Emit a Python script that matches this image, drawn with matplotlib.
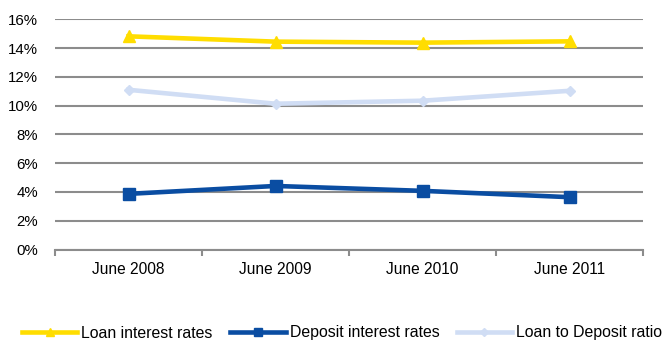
import matplotlib.pyplot as plt
import numpy as np
from matplotlib.ticker import FuncFormatter

plt.rcParams['font.family'] = ['Liberation Sans', 'DejaVu Sans']

periods = ["June 2008", "June 2009", "June 2010", "June 2011"]
loan_rates = [14.83, 14.46, 14.39, 14.48]
deposit_rates = [3.87, 4.42, 4.08, 3.64]
loan_to_deposit = [11.11, 10.14, 10.35, 11.04]

fig = plt.figure(figsize=(6.64, 3.40), dpi=100)
ax = fig.add_axes([55 / 664, 1 - 249.5 / 340, 588 / 664, 230 / 340])

x = np.arange(len(periods))
ax.plot(x, loan_rates, color="#FFDD00", linewidth=3.3, marker="^", markersize=8,
        label="Loan interest rates")
ax.plot(x, deposit_rates, color="#0A4DA2", linewidth=3.3, marker="s", markersize=8,
        label="Deposit interest rates")
ax.plot(x, loan_to_deposit, color="#D0DDF4", linewidth=3.3, marker="D", markersize=5.5,
        label="Loan to Deposit ratio")

ax.set_xlim(-0.5, len(periods) - 0.5)
ax.set_ylim(0, 16)
ax.set_yticks(np.arange(0, 17, 2))
ax.yaxis.set_major_formatter(FuncFormatter(lambda v, p: f"{v:.0f}%"))
ax.grid(axis="y", color="#8C8C8C", linewidth=1.5)
ax.set_axisbelow(True)

# category labels sit between the boundary ticks
ax.set_xticks(np.arange(-0.5, len(periods), 1.0))
ax.set_xticklabels([])
ax.set_xticks(x, minor=True)
ax.set_xticklabels(periods, minor=True)
ax.tick_params(axis="x", which="major", length=4, width=1.5, color="#8C8C8C")
ax.tick_params(axis="x", which="minor", length=0, pad=9, labelsize=11.2)
ax.tick_params(axis="y", length=0, pad=12, labelsize=10.8)

for side in ["left", "right", "top"]:
    ax.spines[side].set_visible(False)
ax.spines["bottom"].set_color("#8C8C8C")
ax.spines["bottom"].set_linewidth(1.5)

fig.legend(loc="center left", bbox_to_anchor=(22 / 664, 1 - 333 / 340), ncol=3,
           frameon=False, fontsize=11.4, handlelength=3.5, handletextpad=0.25,
           columnspacing=1.1, borderaxespad=0, borderpad=0, markerscale=0.7)

fig.savefig("out.png", dpi=100)
